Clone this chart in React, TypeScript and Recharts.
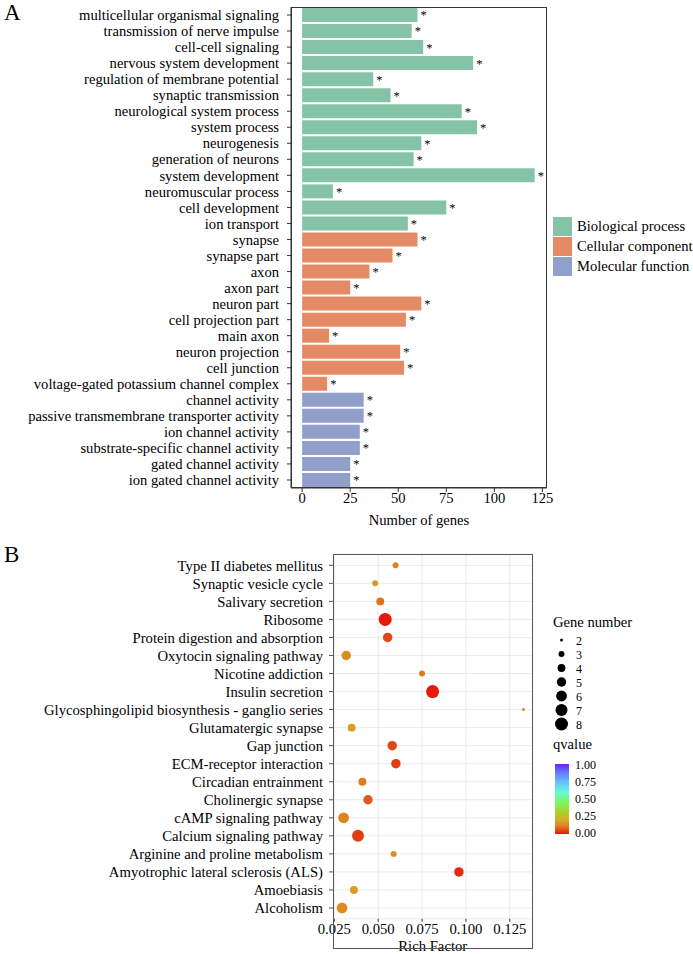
import React from "react";
import {
  BarChart,
  Bar,
  Cell,
  LabelList,
  XAxis,
  YAxis,
  ScatterChart,
  Scatter,
  CartesianGrid,
} from "recharts";

// Panel A: GO enrichment, top to bottom
const goTerms = [
  "multicellular organismal signaling",
  "transmission of nerve impulse",
  "cell-cell signaling",
  "nervous system development",
  "regulation of membrane potential",
  "synaptic transmission",
  "neurological system process",
  "system process",
  "neurogenesis",
  "generation of neurons",
  "system development",
  "neuromuscular process",
  "cell development",
  "ion transport",
  "synapse",
  "synapse part",
  "axon",
  "axon part",
  "neuron part",
  "cell projection part",
  "main axon",
  "neuron projection",
  "cell junction",
  "voltage-gated potassium channel complex",
  "channel activity",
  "passive transmembrane transporter activity",
  "ion channel activity",
  "substrate-specific channel activity",
  "gated channel activity",
  "ion gated channel activity",
];
const geneCounts = [
  60, 57, 63, 89, 37, 46, 83, 91, 62, 58, 121, 16, 75, 55,
  60, 47, 35, 25, 62, 54, 14, 51, 53, 13,
  32, 32, 30, 30, 25, 25,
];
const ontology = [
  "BP", "BP", "BP", "BP", "BP", "BP", "BP", "BP", "BP", "BP", "BP", "BP", "BP", "BP",
  "CC", "CC", "CC", "CC", "CC", "CC", "CC", "CC", "CC", "CC",
  "MF", "MF", "MF", "MF", "MF", "MF",
];
const ontologyNames = ["Biological process", "Cellular component", "Molecular function"];
const geneTicks = [0, 25, 50, 75, 100, 125];

// Panel B: KEGG pathways, top to bottom
const pathways = [
  "Type II diabetes mellitus",
  "Synaptic vesicle cycle",
  "Salivary secretion",
  "Ribosome",
  "Protein digestion and absorption",
  "Oxytocin signaling pathway",
  "Nicotine addiction",
  "Insulin secretion",
  "Glycosphingolipid biosynthesis - ganglio series",
  "Glutamatergic synapse",
  "Gap junction",
  "ECM-receptor interaction",
  "Circadian entrainment",
  "Cholinergic synapse",
  "cAMP signaling pathway",
  "Calcium signaling pathway",
  "Arginine and proline metabolism",
  "Amyotrophic lateral sclerosis (ALS)",
  "Amoebiasis",
  "Alcoholism",
];
const richFactor = [
  0.0599, 0.0483, 0.0512, 0.054, 0.0554, 0.0318, 0.075, 0.081, 0.1328, 0.0349,
  0.058, 0.0601, 0.041, 0.0442, 0.0303, 0.0385, 0.0588, 0.096, 0.0362, 0.0294,
];
const geneNumber = [3, 3, 4, 8, 5, 5, 3, 8, 2, 4, 5, 5, 4, 5, 6, 7, 3, 5, 4, 6];
const qvalues = [
  0.12, 0.16, 0.1, 0.005, 0.05, 0.13, 0.11, 0.005, 0.12, 0.17,
  0.05, 0.04, 0.11, 0.07, 0.12, 0.04, 0.13, 0.02, 0.17, 0.13,
];
const richTicks = [0.025, 0.05, 0.075, 0.1, 0.125];
const sizeLegend = [2, 3, 4, 5, 6, 7, 8];
const qTicks = [1.0, 0.75, 0.5, 0.25, 0.0];

const FONT = '"Liberation Serif", "Times New Roman", serif';
const GROUP_COLORS: Record<string, string> = { BP: "#86c2a6", CC: "#e48b66", MF: "#919fcb" };
const GROUP_KEYS = ["BP", "CC", "MF"];

// qvalue colour scale (red -> yellow -> green -> cyan -> blue -> purple)
const Q_STOPS: [number, number[]][] = [
  [0.0, [232, 20, 10]],
  [0.06, [226, 80, 24]],
  [0.12, [221, 134, 32]],
  [0.2, [212, 172, 42]],
  [0.3, [176, 204, 40]],
  [0.45, [120, 250, 90]],
  [0.6, [100, 250, 220]],
  [0.75, [100, 190, 255]],
  [0.88, [100, 120, 255]],
  [1.0, [112, 30, 255]],
];
const qColor = (q: number) => {
  for (let i = 1; i < Q_STOPS.length; i++) {
    const [p1, c1] = Q_STOPS[i];
    const [p0, c0] = Q_STOPS[i - 1];
    if (q <= p1) {
      const t = (q - p0) / (p1 - p0);
      const c = c0.map((v, k) => Math.round(v + (c1[k] - v) * t));
      return `rgb(${c[0]},${c[1]},${c[2]})`;
    }
  }
  return "rgb(112,30,255)";
};
// area-proportional size scale
const dotRadius = (n: number) => Math.sqrt(2.25 + (n - 2) * 6.7);

const goData = goTerms.map((term, i) => ({
  term,
  genes: geneCounts[i],
  group: ontology[i],
  star: "*",
}));

const keggData = pathways.map((name, i) => ({
  name,
  rich: richFactor[i],
  pos: pathways.length - i,
  genes: geneNumber[i],
  q: qvalues[i],
}));

const DotShape = (props: any) => {
  const { cx, cy, payload } = props;
  if (cx == null || cy == null) return null;
  return <circle cx={cx} cy={cy} r={dotRadius(payload.genes)} fill={qColor(payload.q)} />;
};

const tickA = { fontFamily: FONT, fontSize: 14.6, fill: "#000" };
const tickB = { fontFamily: FONT, fontSize: 14.7, fill: "#000" };

export default function App() {
  return (
    <div style={{ position: "absolute", left: 0, top: 0, width: 693, height: 954, background: "#fff", fontFamily: FONT }}>
      {/* Panel A */}
      <div style={{ position: "absolute", left: 0, top: 0 }}>
        <BarChart
          width={693}
          height={530}
          data={goData}
          layout="vertical"
          margin={{ top: 7, right: 146, bottom: 2, left: 0 }}
          barCategoryGap={1}
        >
          <XAxis
            type="number"
            dataKey="genes"
            domain={[-5.8, 127.4]}
            ticks={geneTicks}
            allowDataOverflow
            height={40}
            tickSize={4}
            tickMargin={1}
            stroke="#333"
            tick={tickA}
            label={{ value: "Number of  genes", position: "insideBottom", offset: 3, style: { ...tickA, whiteSpace: "pre" } }}
          />
          <YAxis
            type="category"
            dataKey="term"
            width={291}
            tickSize={4}
            tickMargin={8}
            stroke="#333"
            tick={tickA}
            interval={0}
          />
          <Bar dataKey="genes" isAnimationActive={false}>
            {goData.map((d, i) => (
              <Cell key={`bar-${i}`} fill={GROUP_COLORS[d.group]} />
            ))}
            <LabelList dataKey="star" position="right" offset={3} style={{ fontFamily: FONT, fontSize: 12.5, fill: "#000" }} />
          </Bar>
        </BarChart>
        <div style={{ position: "absolute", left: 291, top: 7, width: 256, height: 481, border: "1px solid #333", boxSizing: "border-box", pointerEvents: "none" }} />
      </div>

      {/* Panel B */}
      <div style={{ position: "absolute", left: 0, top: 530 }}>
        <ScatterChart width={693} height={424} margin={{ top: 24.5, right: 160.5, bottom: 0, left: 0 }}>
          <CartesianGrid
            stroke="#ebebeb"
            verticalValues={[0.025, 0.0375, 0.05, 0.0625, 0.075, 0.0875, 0.1, 0.1125, 0.125]}
          />
          <XAxis
            type="number"
            dataKey="rich"
            domain={[0.02426, 0.13793]}
            ticks={richTicks}
            allowDataOverflow
            tickFormatter={(v: number) => v.toFixed(3)}
            height={35.2}
            tickSize={3}
            tickMargin={2}
            stroke="#333"
            axisLine={false}
            tick={tickB}
            label={{ value: "Rich Factor", position: "insideBottom", offset: 3, style: tickB }}
          />
          <YAxis
            type="number"
            dataKey="pos"
            domain={[0.4, pathways.length + 0.6]}
            ticks={pathways.map((_, i) => i + 1)}
            allowDataOverflow
            interval={0}
            tickFormatter={(v: number) => pathways[pathways.length - v] ?? ""}
            width={333}
            tickSize={4}
            tickMargin={6}
            stroke="#555"
            axisLine={false}
            tick={tickB}
          />
          <Scatter data={keggData} shape={<DotShape />} isAnimationActive={false} />
        </ScatterChart>
        <div style={{ position: "absolute", left: 332.5, top: 24, width: 200, height: 395, border: "1px solid #555", boxSizing: "border-box", pointerEvents: "none" }} />
      </div>

      {/* panel letters and legends */}
      <svg width={693} height={954} style={{ position: "absolute", left: 0, top: 0, pointerEvents: "none", fontFamily: FONT }}>
        <text x={4} y={20} fontSize={23}>A</text>
        <text x={4} y={562} fontSize={23}>B</text>

        {GROUP_KEYS.map((g, i) => (
          <g key={g}>
            <rect x={553} y={217 + i * 20} width={19} height={19} fill={GROUP_COLORS[g]} />
            <text x={577} y={231 + i * 20} fontSize={14.6}>{ontologyNames[i]}</text>
          </g>
        ))}

        <text x={553} y={627} fontSize={14.6}>Gene number</text>
        {sizeLegend.map((n, i) => (
          <g key={n}>
            <circle cx={561.5} cy={640 + i * 14} r={dotRadius(n)} fill="#000" />
            <text x={576} y={644.5 + i * 14} fontSize={12}>{n}</text>
          </g>
        ))}

        <text x={553} y={749} fontSize={14.6}>qvalue</text>
        <defs>
          <linearGradient id="qgrad" x1="0" y1="1" x2="0" y2="0">
            {Q_STOPS.map(([p, c]) => (
              <stop key={p} offset={p} stopColor={`rgb(${c[0]},${c[1]},${c[2]})`} />
            ))}
          </linearGradient>
        </defs>
        <rect x={555} y={764} width={14} height={70} fill="url(#qgrad)" />
        {qTicks.map((q) => (
          <text key={q} x={575} y={769 + (1 - q) * 68} fontSize={12}>{q.toFixed(2)}</text>
        ))}
      </svg>
    </div>
  );
}
